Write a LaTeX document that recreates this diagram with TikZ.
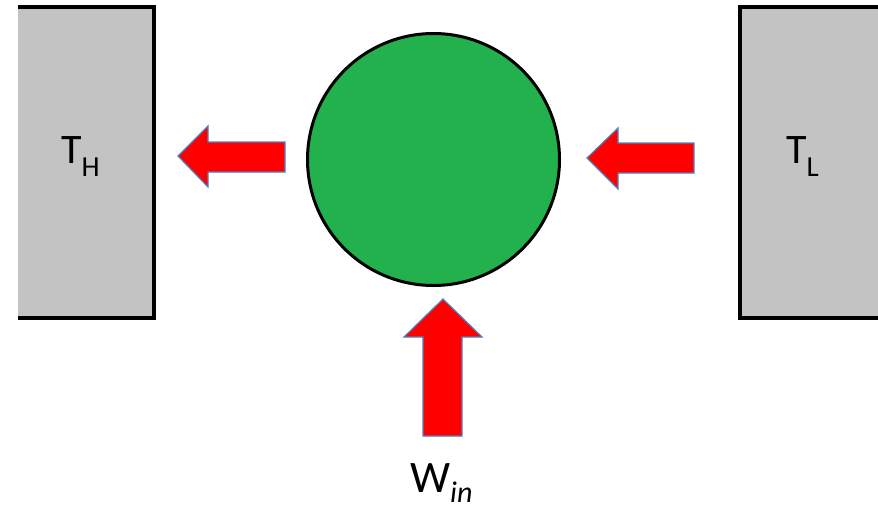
\documentclass[tikz,border=0pt]{standalone}
\usepackage{fontspec}
\setmainfont{Carlito}
\definecolor{boxgray}{RGB}{195,195,195}
\definecolor{ballgreen}{RGB}{34,177,76}
\definecolor{arrowedge}{RGB}{79,129,189}
\begin{document}
\begin{tikzpicture}[x=1pt,y=-1pt,
  wall/.style={line width=4.5pt,line join=miter},
  heatarrow/.style={fill=red,draw=arrowedge,line width=1.2pt,line join=miter},
  lbl/.style={anchor=base west,inner sep=0pt,font=\fontsize{42}{42}\selectfont}]
\useasboundingbox (0,0) rectangle (878,506);
% left reservoir
\fill[boxgray] (18,7) rectangle (154,318);
\draw[wall] (18,7) -- (154,7) -- (154,318) -- (18,318);
% right reservoir
\fill[boxgray] (740,7) rectangle (878,318);
\draw[wall] (878,7) -- (740,7) -- (740,318) -- (878,318);
% ball
\node[circle,draw=black,line width=3pt,fill=ballgreen,minimum size=252pt,inner sep=0pt] (ball) at (433.5,159.5) {};
% arrows
\draw[heatarrow] (178,156) -- (208,126) -- (208,142) -- (285,142) -- (285,172) -- (208,172) -- (208,187) -- cycle;
\draw[heatarrow] (587,158) -- (618,128) -- (618,143) -- (694,143) -- (694,173) -- (618,173) -- (618,189) -- cycle;
\draw[heatarrow] (443,299) -- (482,337) -- (462,337) -- (462,436) -- (423,436) -- (423,337) -- (404,337) -- cycle;
% labels
\node[lbl] (th) at (61,163) {T\raisebox{-13pt}{\fontsize{29}{29}\selectfont H}};
\node[lbl] (tl) at (786,163) {T\raisebox{-13pt}{\fontsize{29}{29}\selectfont L}};
\node[lbl,font=\fontsize{45}{45}\selectfont] (win) at (410,492) {W\raisebox{-10pt}{\fontsize{30}{30}\selectfont\itshape in}};
\end{tikzpicture}
\end{document}
